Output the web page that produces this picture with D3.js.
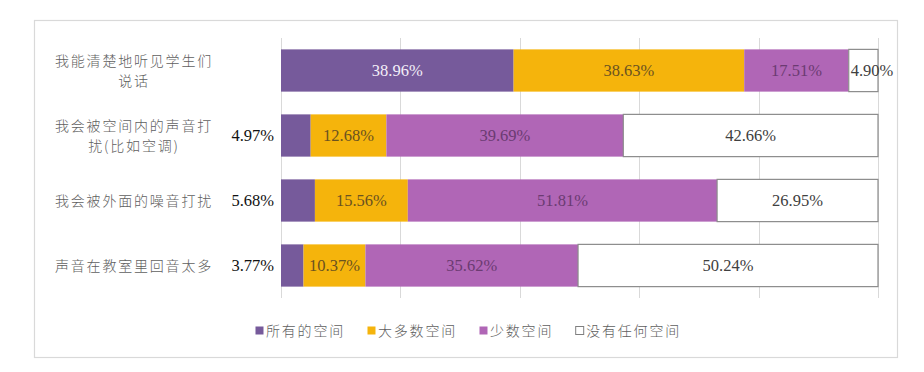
<!DOCTYPE html>
<html><head><meta charset="utf-8">
<script src="https://cdn.jsdelivr.net/npm/d3@7"></script>
<style>
html,body{margin:0;padding:0;background:#fff;}
svg{display:block;}
</style></head>
<body>
<svg id="chart" width="924" height="372"></svg>
<script>
// ---- data ----
const categories = ["我能清楚地听见学生们说话", "我会被空间内的声音打扰(比如空调)", "我会被外面的噪音打扰", "声音在教室里回音太多"];
const seriesNames = ["所有的空间", "大多数空间", "少数空间", "没有任何空间"];
const allSpaces   = [38.96, 4.97, 5.68, 3.77];
const mostSpaces  = [38.63, 12.68, 15.56, 10.37];
const fewSpaces   = [17.51, 39.69, 51.81, 35.62];
const noSpaces    = [4.90, 42.66, 26.95, 50.24];
const gridTicks   = [0, 20, 40, 60, 80, 100];

// ---- styles ----
const colors = ["#765a9b", "#f5b40c", "#b066b6", "#ffffff"];
const labelColors = ["#f3eef8", "#6a5220", "#6b3b72", "#404040"];

const svg = d3.select("#chart");

// outer frame
svg.append("rect").attr("x", 34.5).attr("y", 20.5).attr("width", 863).attr("height", 337)
  .attr("fill", "#fff").attr("stroke", "#d9d9d9").attr("stroke-width", 1.2);

const x = d3.scaleLinear().domain([0, 100]).range([281, 878]);
const y = d3.scaleBand().domain(categories).range([38, 298]).paddingInner(0.35).paddingOuter(0.175);

// gridlines
svg.append("g").selectAll("line").data(gridTicks).join("line")
  .attr("x1", d => Math.round(x(d)) + 0.5).attr("x2", d => Math.round(x(d)) + 0.5)
  .attr("y1", 38).attr("y2", 298)
  .attr("stroke", "#d9d9d9").attr("stroke-width", 1);

// stack
const seriesArrays = [allSpaces, mostSpaces, fewSpaces, noSpaces];
const table = categories.map((c, i) => {
  const o = {cat: c};
  seriesNames.forEach((s, k) => o[s] = seriesArrays[k][i]);
  return o;
});
const stack = d3.stack().keys(seriesNames)(table);

const gBars = svg.append("g");
stack.forEach((layer, k) => {
  gBars.selectAll(null).data(layer).join("rect")
    .attr("x", d => x(d[0]))
    .attr("y", d => y(d.data.cat))
    .attr("width", d => x(d[1]) - x(d[0]))
    .attr("height", y.bandwidth())
    .attr("fill", colors[k])
    .attr("stroke", k === 3 ? "#8c8c8c" : "none")
    .attr("stroke-width", 1.2);
});

// value labels
const gLab = svg.append("g").attr("font-family", "'Liberation Serif','Times New Roman',serif").attr("font-size", 16.5);
stack.forEach((layer, k) => {
  layer.forEach(d => {
    const v = d[1] - d[0];
    const cy = y(d.data.cat) + y.bandwidth() / 2;
    const txt = d3.format(".2f")(v) + "%";
    let tx, anchor, fill = labelColors[k];
    if (v < 8) {
      if (k === 0) { tx = x(0) - 7; anchor = "end"; fill = "#111"; }
      else { tx = x(d[0]) + 2; anchor = "start"; fill = "#404040"; }
    } else {
      tx = (x(d[0]) + x(d[1])) / 2; anchor = "middle";
    }
    gLab.append("text").attr("x", tx).attr("y", cy).attr("dy", "0.35em")
      .attr("text-anchor", anchor).attr("fill", fill)
      .text(txt);
  });
});

// category labels (wrapped at 10 chars)
const labelX = 134;
const gCat = svg.append("g").attr("font-family", "'Noto Sans CJK SC','Noto Sans',sans-serif")
  .attr("font-size", 14).attr("font-weight", 300).attr("fill", "#606060").attr("letter-spacing", "1.8px");
categories.forEach(c => {
  const lines = [];
  for (let i = 0; i < c.length; i += 10) lines.push(c.slice(i, i + 10));
  const cy = y(c) + y.bandwidth() / 2;
  const t = gCat.append("text").attr("text-anchor", "middle");
  lines.forEach((ln, i) => {
    t.append("tspan").attr("x", labelX).attr("y", cy + (i - (lines.length - 1) / 2) * 20)
      .attr("dy", "0.36em").text(ln);
  });
});

// legend
const gLeg = svg.append("g").attr("font-family", "'Noto Sans CJK SC','Noto Sans',sans-serif")
  .attr("font-size", 14).attr("font-weight", 300).attr("fill", "#606060");
const legY = 331;
let cx = 0;
const items = [];
seriesNames.forEach((s, k) => {
  const g = gLeg.append("g");
  g.append("rect").attr("x", 0.5).attr("y", legY - 4.5).attr("width", 8).attr("height", 8)
    .attr("fill", colors[k]).attr("stroke", k === 3 ? "#7f7f7f" : "none");
  const t = g.append("text").attr("x", 11).attr("y", legY).attr("dy", "0.36em")
    .attr("letter-spacing", "1.8px").text(s);
  const w = 11 + t.node().getComputedTextLength();
  items.push({g, x: cx});
  cx += w + 22;
});
const totalW = cx - 22;
const startX = 468 - totalW / 2;
items.forEach(it => it.g.attr("transform", `translate(${startX + it.x},0)`));
</script>
</body></html>
